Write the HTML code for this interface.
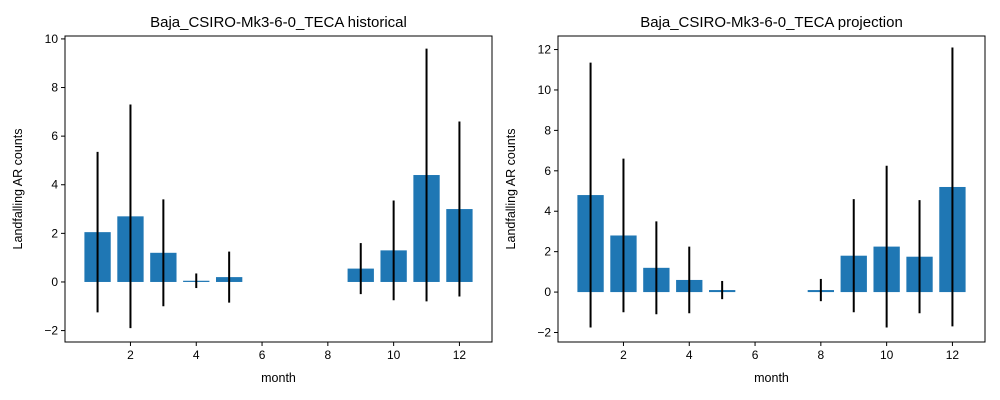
<!DOCTYPE html>
<html><head><meta charset="utf-8"><style>body{margin:0;background:#fff}svg{display:block;font-family:"Liberation Sans","DejaVu Sans",sans-serif}</style></head>
<body>
<svg id="c" width="1000" height="400"></svg>
<script>
const months=[1,2,3,4,5,6,7,8,9,10,11,12];
const histValues=[2.05,2.7,1.2,0.05,0.2,0,0,0,0.55,1.3,4.4,3.0];
const histErrors=[3.3,4.6,2.2,0.3,1.05,0,0,0,1.05,2.05,5.2,3.6];
const projValues=[4.8,2.8,1.2,0.6,0.1,0,0,0.1,1.8,2.25,1.75,5.2];
const projErrors=[6.55,3.8,2.3,1.65,0.45,0,0,0.55,2.8,4.0,2.8,6.9];
const xTicks=[2,4,6,8,10,12];
const histYTicks=[-2,0,2,4,6,8,10];
const projYTicks=[-2,0,2,4,6,8,10,12];
const NS='http://www.w3.org/2000/svg';
const svg=document.getElementById('c');
function mk(t,a,p){const e=document.createElementNS(NS,t);for(const k in a)e.setAttribute(k,a[k]);(p||svg).appendChild(e);return e;}
function panel(x0,x1,y0,y1,ymin,ymax,vals,errs,yt,title,prefix){
  const g=mk('g',{});
  
  
  const xmin=0.01,xmax=12.99;
  const X=v=>x0+(v-xmin)/(xmax-xmin)*(x1-x0);
  const Y=v=>y1-(v-ymin)/(ymax-ymin)*(y1-y0);
  months.forEach((m,i)=>{
    const v=vals[i],e=errs[i];
    const top=Y(Math.max(v,0)),bot=Y(Math.min(v,0));
    const b=mk('rect',{x:X(m-0.4),y:top,width:X(m+0.4)-X(m-0.4),height:Math.max(bot-top,0),fill:'#1f77b4'},g);
    
    
    if(e>0){
      const l=mk('line',{x1:X(m),x2:X(m),y1:Y(v+e),y2:Y(v-e),stroke:'#000','stroke-width':2},g);
      
      
    }
  });
  const f=mk('rect',{x:x0,y:y0,width:x1-x0,height:y1-y0,fill:'none',stroke:'#000','stroke-width':1},g);
  
  
  xTicks.forEach(t=>{
    mk('line',{x1:X(t),x2:X(t),y1:y1,y2:y1+4,stroke:'#000'},g);
    const tx=mk('text',{x:X(t),y:y1+17,'text-anchor':'middle','font-size':12},g);tx.textContent=t;
    
    
  });
  yt.forEach(t=>{
    mk('line',{x1:x0-4,x2:x0,y1:Y(t),y2:Y(t),stroke:'#000'},g);
    const tx=mk('text',{x:x0-7,y:Y(t)+4,'text-anchor':'end','font-size':12},g);tx.textContent=t<0?'\u2212'+(-t):t;
    
    
  });
  const xl=mk('text',{x:(x0+x1)/2,y:382,'text-anchor':'middle','font-size':12.5},g);xl.textContent='month';
  
  
  const yl=mk('text',{x:0,y:0,'text-anchor':'middle','font-size':12.5,transform:`translate(${x0-43},${(y0+y1)/2}) rotate(-90)`},g);yl.textContent='Landfalling AR counts';
  
  
  const ti=mk('text',{x:(x0+x1)/2,y:27,'text-anchor':'middle','font-size':15},g);ti.textContent=title;
  
  
}
panel(65,492,36,342,-2.47,10.12,histValues,histErrors,histYTicks,'Baja_CSIRO-Mk3-6-0_TECA historical','historical');
panel(558,985,36,342,-2.47,12.67,projValues,projErrors,projYTicks,'Baja_CSIRO-Mk3-6-0_TECA projection','projection');
</script>
</body></html>
